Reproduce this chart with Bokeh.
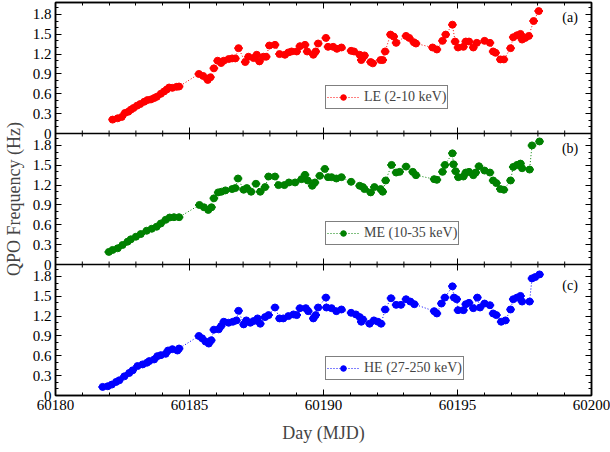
from bokeh.plotting import figure
from bokeh.models import (ColumnDataSource, LinearAxis, Range1d, FixedTicker,
                          CustomJSTickFormatter, Legend, LegendItem, Label, Span)
from bokeh.embed import file_html
from bokeh.resources import INLINE

FONT = "Liberation Serif"

# ---- QPO centroid frequency (Hz) versus time (MJD) in three energy bands ----
le_day = [60182.13, 60182.32, 60182.47, 60182.59, 60182.72, 60182.81, 60182.91, 60183.04,
          60183.16, 60183.31, 60183.43, 60183.56, 60183.68, 60183.78, 60183.93, 60184.05,
          60184.15, 60184.24, 60184.36, 60184.52, 60184.61, 60185.35, 60185.51, 60185.68,
          60185.78, 60185.91, 60186.05, 60186.18, 60186.28, 60186.46, 60186.59, 60186.71,
          60186.83, 60187.08, 60187.20, 60187.39, 60187.51, 60187.61, 60187.76, 60187.86,
          60187.98, 60188.19, 60188.36, 60188.56, 60188.69, 60188.81, 60189.00, 60189.12,
          60189.31, 60189.39, 60189.62, 60189.71, 60189.80, 60190.09, 60190.17, 60190.36,
          60190.50, 60190.67, 60191.03, 60191.14, 60191.35, 60191.41, 60191.47, 60191.53,
          60191.76, 60191.84, 60192.13, 60192.21, 60192.30, 60192.50, 60192.62, 60192.71,
          60193.08, 60193.20, 60193.37, 60193.45, 60194.07, 60194.23, 60194.44, 60194.56,
          60194.81, 60194.91, 60195.02, 60195.22, 60195.31, 60195.43, 60195.59, 60195.72,
          60196.01, 60196.21, 60196.33, 60196.42, 60196.60, 60196.73, 60196.98, 60197.08,
          60197.22, 60197.35, 60197.41, 60197.53, 60197.66, 60197.84, 60198.03]
le_freq = [0.21, 0.23, 0.25, 0.31, 0.33, 0.36, 0.385, 0.42,
           0.445, 0.48, 0.505, 0.515, 0.535, 0.555, 0.60, 0.635,
           0.665, 0.695, 0.69, 0.705, 0.71, 0.90, 0.87, 0.81,
           0.85, 0.985, 1.10, 1.065, 1.10, 1.125, 1.135, 1.135,
           1.29, 1.08, 1.16, 1.14, 1.19, 1.09, 1.16, 1.16,
           1.33, 1.34, 1.20, 1.19, 1.225, 1.24, 1.24, 1.32,
           1.34, 1.24, 1.19, 1.24, 1.36, 1.445, 1.31, 1.31,
           1.28, 1.30, 1.25, 1.24, 1.19, 1.11, 1.15, 1.18,
           1.08, 1.06, 1.11, 1.11, 1.24, 1.495, 1.465, 1.37,
           1.475, 1.445, 1.38, 1.36, 1.30, 1.27, 1.40, 1.495,
           1.645, 1.39, 1.30, 1.31, 1.39, 1.39, 1.30, 1.37,
           1.40, 1.37, 1.24, 1.22, 1.12, 1.12, 1.29, 1.455,
           1.485, 1.505, 1.42, 1.445, 1.475, 1.70, 1.85]

me_day = [60181.99, 60182.13, 60182.32, 60182.50, 60182.69, 60182.81, 60183.00, 60183.18,
          60183.40, 60183.59, 60183.77, 60183.93, 60184.11, 60184.26, 60184.42, 60184.61,
          60185.37, 60185.54, 60185.70, 60185.82, 60185.91, 60186.07, 60186.19, 60186.34,
          60186.59, 60186.71, 60186.81, 60187.02, 60187.14, 60187.30, 60187.48, 60187.64,
          60187.82, 60187.95, 60188.19, 60188.32, 60188.54, 60188.71, 60188.94, 60189.18,
          60189.31, 60189.41, 60189.58, 60189.68, 60189.86, 60190.05, 60190.17, 60190.30,
          60190.48, 60190.67, 60191.03, 60191.35, 60191.47, 60191.53, 60191.76, 60191.90,
          60192.13, 60192.21, 60192.32, 60192.54, 60192.71, 60192.84, 60193.08, 60193.33,
          60193.45, 60194.13, 60194.23, 60194.44, 60194.53, 60194.81, 60194.85, 60194.93,
          60195.03, 60195.22, 60195.31, 60195.43, 60195.59, 60195.68, 60195.80, 60196.01,
          60196.21, 60196.33, 60196.45, 60196.60, 60196.73, 60196.98, 60197.08, 60197.22,
          60197.35, 60197.41, 60197.69, 60197.78, 60198.06]
me_freq = [0.19, 0.22, 0.245, 0.295, 0.345, 0.38, 0.42, 0.46,
           0.51, 0.54, 0.57, 0.62, 0.675, 0.71, 0.715, 0.715,
           0.90, 0.865, 0.825, 0.865, 1.00, 1.09, 1.10, 1.12,
           1.14, 1.155, 1.30, 1.13, 1.155, 1.10, 1.22, 1.10,
           1.17, 1.33, 1.33, 1.20, 1.20, 1.24, 1.24, 1.29,
           1.355, 1.27, 1.19, 1.24, 1.34, 1.445, 1.32, 1.32,
           1.30, 1.32, 1.25, 1.19, 1.17, 1.14, 1.09, 1.17,
           1.14, 1.10, 1.27, 1.505, 1.39, 1.40, 1.48, 1.40,
           1.35, 1.29, 1.28, 1.40, 1.505, 1.68, 1.515, 1.41,
           1.32, 1.33, 1.39, 1.40, 1.35, 1.39, 1.485, 1.42,
           1.39, 1.27, 1.23, 1.14, 1.13, 1.27, 1.475, 1.505,
           1.525, 1.455, 1.435, 1.80, 1.86]

he_day = [60181.76, 60181.95, 60182.10, 60182.26, 60182.38, 60182.57, 60182.75, 60182.88,
          60183.06, 60183.25, 60183.41, 60183.50, 60183.68, 60183.80, 60183.93, 60184.11,
          60184.20, 60184.36, 60184.55, 60184.61, 60185.35, 60185.47, 60185.60, 60185.72,
          60185.81, 60185.91, 60186.09, 60186.18, 60186.28, 60186.46, 60186.62, 60186.75,
          60186.83, 60187.02, 60187.12, 60187.27, 60187.39, 60187.54, 60187.64, 60187.82,
          60187.95, 60188.19, 60188.36, 60188.50, 60188.69, 60188.88, 60189.00, 60189.12,
          60189.34, 60189.43, 60189.62, 60189.71, 60189.80, 60190.09, 60190.11, 60190.30,
          60190.48, 60190.67, 60191.03, 60191.21, 60191.35, 60191.41, 60191.47, 60191.72,
          60191.88, 60192.03, 60192.15, 60192.30, 60192.52, 60192.71, 60192.89, 60193.08,
          60193.24, 60193.39, 60194.13, 60194.23, 60194.40, 60194.53, 60194.81, 60194.87,
          60194.97, 60195.02, 60195.22, 60195.31, 60195.43, 60195.59, 60195.74, 60195.84,
          60196.01, 60196.21, 60196.33, 60196.45, 60196.63, 60196.79, 60196.98, 60197.08,
          60197.22, 60197.35, 60197.41, 60197.69, 60197.78, 60197.90, 60198.06]
he_freq = [0.13, 0.14, 0.165, 0.205, 0.23, 0.29, 0.34, 0.38,
           0.445, 0.47, 0.495, 0.52, 0.545, 0.595, 0.61, 0.63,
           0.68, 0.70, 0.68, 0.71, 0.90, 0.865, 0.815, 0.785,
           0.835, 0.995, 1.00, 1.05, 1.115, 1.10, 1.115, 1.135,
           1.28, 1.075, 1.135, 1.10, 1.125, 1.165, 1.085, 1.185,
           1.215, 1.33, 1.165, 1.165, 1.20, 1.225, 1.215, 1.32,
           1.32, 1.275, 1.165, 1.215, 1.33, 1.48, 1.33, 1.32,
           1.275, 1.30, 1.25, 1.225, 1.185, 1.115, 1.15, 1.085,
           1.135, 1.115, 1.085, 1.30, 1.47, 1.37, 1.37, 1.455,
           1.42, 1.38, 1.275, 1.24, 1.39, 1.48, 1.65, 1.48,
           1.455, 1.29, 1.29, 1.38, 1.40, 1.32, 1.48, 1.33,
           1.39, 1.365, 1.24, 1.215, 1.115, 1.135, 1.30, 1.455,
           1.48, 1.505, 1.42, 1.42, 1.77, 1.79, 1.83]

band_names = ["LE (2-10 keV)", "ME (10-35 keV)", "HE (27-250 keV)"]
panel_tags = ["(a)", "(b)", "(c)"]
band_colors = ["#ff0000", "#008000", "#0000ff"]

x_major_ticks = [60180, 60185, 60190, 60195, 60200]
x_minor_ticks = list(range(60180, 60201))
y_major_ticks = [0, 0.3, 0.6, 0.9, 1.2, 1.5, 1.8]
y_minor_ticks = [i / 10 for i in range(0, 20)]

DAY_ERR = 0.16    # half-width of the time bins
FREQ_ERR = 0.035  # typical 1-sigma frequency uncertainty

# Each panel spans 0 .. PANEL_TOP Hz; the three panels are stacked in one frame,
# every panel getting its own y scale (panel c at the bottom, panel a on top).
PANEL_TOP = 1.98
N_PANELS = 3
STACK = N_PANELS * PANEL_TOP

p = figure(width=610, height=452,
           x_range=Range1d(60180, 60200), y_range=Range1d(0, STACK),
           x_axis_type=None, y_axis_type=None,
           output_backend="svg", toolbar_location=None,
           min_border_left=52, min_border_right=19,
           min_border_top=2, min_border_bottom=57)
p.outline_line_color = "black"
p.outline_line_width = 1.5
p.background_fill_color = "white"
p.border_fill_color = "white"

# slot 2 = top panel (a), slot 1 = middle (b), slot 0 = bottom (c)
slots = [2, 1, 0]
range_names = ["le", "me", "he"]
for name, slot in zip(range_names, slots):
    p.extra_y_ranges[name] = Range1d(-slot * PANEL_TOP, (N_PANELS - slot) * PANEL_TOP)


def style_axis(ax, show_labels):
    ax.axis_line_color = "black"
    ax.axis_line_width = 1.5
    ax.major_tick_in = 6
    ax.major_tick_out = 0
    ax.minor_tick_in = 3
    ax.minor_tick_out = 0
    ax.major_tick_line_color = "black"
    ax.minor_tick_line_color = "black"
    ax.major_label_text_font = FONT
    if show_labels:
        ax.major_label_text_color = "black"
        ax.major_label_text_font_size = "15px"
        ax.major_label_standoff = 4
    else:
        ax.major_label_text_color = None
        ax.major_label_text_font_size = "1px"
        ax.major_label_standoff = 0


# x axes (bottom labelled, top mirrored ticks only)
x_ticker = FixedTicker(ticks=x_major_ticks, minor_ticks=x_minor_ticks)
x_fmt = CustomJSTickFormatter(code="return tick.toFixed(0);")
for loc in ("below", "above"):
    ax = LinearAxis(ticker=x_ticker, formatter=x_fmt)
    style_axis(ax, loc == "below")
    if loc == "below":
        ax.axis_label = "Day (MJD)"
        ax.axis_label_text_font = FONT
        ax.axis_label_text_font_size = "18px"
        ax.axis_label_text_font_style = "normal"
        ax.axis_label_standoff = 10
    p.add_layout(ax, loc)

# y axes: one ticker repeating the frequency ticks for every stacked panel
y_ticker = FixedTicker(
    ticks=[s * PANEL_TOP + t for s in range(N_PANELS) for t in y_major_ticks],
    minor_ticks=[s * PANEL_TOP + t for s in range(N_PANELS) for t in y_minor_ticks])
y_fmt = CustomJSTickFormatter(args=dict(H=PANEL_TOP), code="""
    const k = Math.floor((tick + 1e-6) / H);
    const v = tick - k * H;
    if (Math.abs(v) < 1e-6) return '0';
    return v.toFixed(1);
""")
for loc in ("left", "right"):
    ax = LinearAxis(ticker=y_ticker, formatter=y_fmt)
    style_axis(ax, loc == "left")
    if loc == "left":
        ax.axis_label = "QPO Frequency (Hz)"
        ax.axis_label_text_font = FONT
        ax.axis_label_text_font_size = "18px"
        ax.axis_label_text_font_style = "normal"
        ax.axis_label_standoff = 6
    p.add_layout(ax, loc)

# panel separators, with the day ticks pointing into both neighbouring panels
major_len = 6 / 66.0
minor_len = 3 / 66.0
sep_x, sep_y0, sep_y1 = [], [], []
for s in range(1, N_PANELS):
    base = s * PANEL_TOP
    p.add_layout(Span(location=base, dimension="width",
                      line_color="black", line_width=1.5))
    for t in x_minor_ticks:
        ln = major_len if t in x_major_ticks else minor_len
        sep_x.append(t)
        sep_y0.append(base - ln)
        sep_y1.append(base + ln)
p.segment(x0="x", y0="y0", x1="x", y1="y1",
          source=ColumnDataSource(dict(x=sep_x, y0=sep_y0, y1=sep_y1)),
          line_color="black", line_width=1)

legend_offsets = [(270, 286), (270, 150), (270, 15)]
tag_heights = [1.75, 1.75, 1.66]
bands = [(le_day, le_freq), (me_day, me_freq), (he_day, he_freq)]

for (day, freq), color, name, tag, rname, loc, tag_y in zip(
        bands, band_colors, band_names, panel_tags, range_names,
        legend_offsets, tag_heights):
    src = ColumnDataSource(dict(
        day=day, freq=freq,
        dlo=[d - DAY_ERR for d in day], dhi=[d + DAY_ERR for d in day],
        flo=[f - FREQ_ERR for f in freq], fhi=[f + FREQ_ERR for f in freq],
    ))
    line_r = p.line("day", "freq", source=src, y_range_name=rname,
                    line_color=color, line_dash="1 2", line_width=1)
    p.segment(x0="dlo", y0="freq", x1="dhi", y1="freq", source=src,
              y_range_name=rname, line_color=color, line_width=2)
    p.segment(x0="day", y0="flo", x1="day", y1="fhi", source=src,
              y_range_name=rname, line_color=color, line_width=1.5)
    pts = p.scatter("day", "freq", source=src, y_range_name=rname,
                    marker="circle", size=7, fill_color=color, line_color=color)

    legend = Legend(items=[LegendItem(label=name, renderers=[line_r, pts])],
                    location=loc, orientation="vertical",
                    padding=1, margin=0, spacing=0,
                    glyph_width=32, glyph_height=14, label_height=20,
                    label_standoff=5,
                    label_text_font=FONT, label_text_font_size="14px",
                    border_line_color="black", border_line_width=1,
                    background_fill_alpha=1)
    p.add_layout(legend)

    p.add_layout(Label(x=60199.2, y=tag_y, y_range_name=rname, text=tag,
                       text_align="center", text_baseline="middle",
                       text_font=FONT, text_font_size="14px", text_color="black"))

with open("out.html", "w") as fh:
    fh.write(file_html(p, INLINE, title="QPO frequency evolution"))
